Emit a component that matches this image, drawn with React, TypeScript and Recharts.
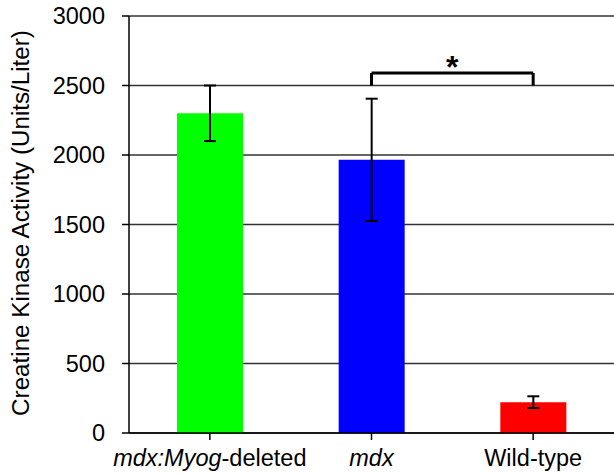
import React from 'react';
import { BarChart, Bar, XAxis, YAxis, CartesianGrid, ErrorBar, Cell, ReferenceLine } from 'recharts';

const categories = ['mdx:Myog-deleted', 'mdx', 'Wild-type'];
const values = [2300, 1965, 222];
const errLow = [200, 440, 42];
const errHigh = [200, 440, 42];
const colors = ['#00ff00', '#0000ff', '#ff0000'];
const yTicks = [0, 500, 1000, 1500, 2000, 2500, 3000];
const bracketY = 2590;
const bracketLegBottom = 2500;

const data = categories.map((c, i) => ({ name: c, value: values[i], err: [errLow[i], errHigh[i]] }));

const FONT = 'Liberation Sans, Arial, sans-serif';

const XTick = (props: any) => {
  const { x, payload } = props;
  const v = payload.value as string;
  let content: React.ReactNode = v;
  if (v === 'mdx:Myog-deleted') {
    content = (<>
      <tspan fontStyle="italic">mdx:Myog</tspan>
      <tspan>-deleted</tspan>
    </>);
  } else if (v === 'mdx') {
    content = <tspan fontStyle="italic">mdx</tspan>;
  }
  return (
    <text x={x} y={466} textAnchor="middle" fontSize={23.5} fill="#000" fontFamily={FONT}>
      {content}
    </text>
  );
};

const YLabel = () => (
  <text x={20} y={223} transform="rotate(-90 20 223)" textAnchor="middle" dominantBaseline="central" fontSize={24.2} fill="#000" fontFamily={FONT}>
    Creatine Kinase Activity (Units/Liter)
  </text>
);

export default function App() {
  return (
    <div style={{ position: 'absolute', left: 0, top: 0, width: 614, height: 474, background: '#fff' }}>
      <BarChart width={614} height={474} data={data} margin={{ top: 16, right: 0, bottom: 0, left: 0 }} barCategoryGap={48}>
        <CartesianGrid vertical={false} stroke="#333" strokeWidth={1.5} />
        <XAxis dataKey="name" height={41} tick={<XTick />} tickLine={{ stroke: '#000', strokeWidth: 1.5 }} axisLine={{ stroke: '#000', strokeWidth: 1.5 }} tickSize={7} interval={0} />
        <YAxis domain={[0, 3000]} ticks={yTicks} width={129} tickSize={7} tickMargin={17}
          tick={{ fill: '#000', fontSize: 23.5, fontFamily: FONT }}
          tickLine={{ stroke: '#000', strokeWidth: 1.5 }} axisLine={{ stroke: '#000', strokeWidth: 1.5 }}
          label={<YLabel />} />
        <Bar dataKey="value" isAnimationActive={false}>
          {data.map((d, i) => <Cell key={d.name} fill={colors[i]} />)}
          <ErrorBar dataKey="err" stroke="#000" strokeWidth={2} width={6} />
        </Bar>
        <ReferenceLine segment={[{ x: 'mdx', y: bracketY }, { x: 'Wild-type', y: bracketY }]} stroke="#000" strokeWidth={3}
          label={{ value: '*', position: 'top', fontSize: 32, fontWeight: 'bold', fill: '#000', offset: -5, fontFamily: FONT }} />
        <ReferenceLine segment={[{ x: 'mdx', y: bracketLegBottom }, { x: 'mdx', y: bracketY }]} stroke="#000" strokeWidth={3} />
        <ReferenceLine segment={[{ x: 'Wild-type', y: bracketLegBottom }, { x: 'Wild-type', y: bracketY }]} stroke="#000" strokeWidth={3} />
      </BarChart>
    </div>
  );
}
